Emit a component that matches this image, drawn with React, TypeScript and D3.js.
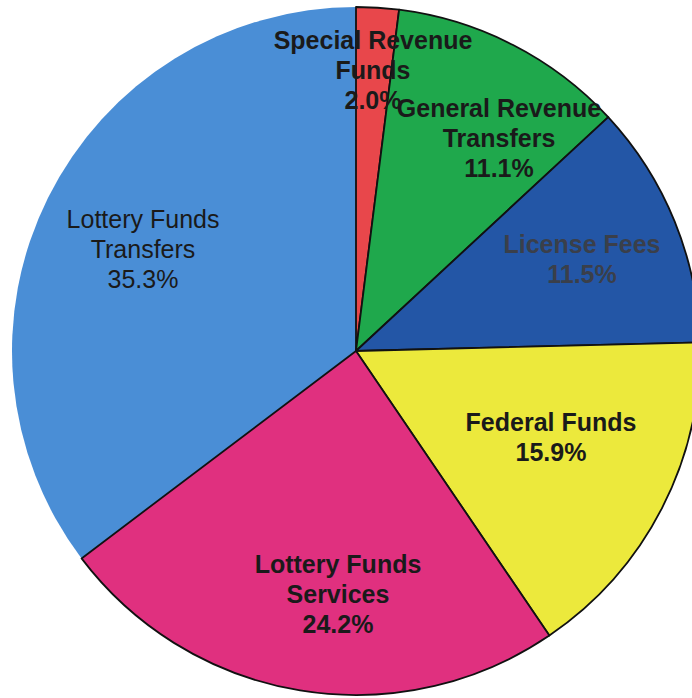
import React from "react";
import * as d3 from "d3";

const categories = [
  "Special Revenue Funds",
  "General Revenue Transfers",
  "License Fees",
  "Federal Funds",
  "Lottery Funds Services",
  "Lottery Funds Transfers",
];
const values = [2.0, 11.1, 11.5, 15.9, 24.2, 35.3];
const labelLines = [
  ["Special Revenue", "Funds", "2.0%"],
  ["General Revenue", "Transfers", "11.1%"],
  ["License Fees", "11.5%"],
  ["Federal Funds", "15.9%"],
  ["Lottery Funds", "Services", "24.2%"],
  ["Lottery Funds", "Transfers", "35.3%"],
];

const colors = ["#e8474b", "#1fa84c", "#2356a6", "#ece93c", "#e0307f", "#4a8ed6"];
// label anchor: offset of first baseline from pie center
const labelOffsets: [number, number][] = [
  [17, -302],
  [143, -234],
  [226, -98],
  [195, 80],
  [-18, 222],
  [-213, -123],
];
const labelWeights = ["bold", "bold", "bold", "bold", "bold", "normal"];
const labelFills = ["#1a1a1a", "#1a1a1a", "#3a3f4a", "#1a1a1a", "#1a1a1a", "#1a1a1a"];

const W = 692;
const H = 698;
const cx = 356;
const cy = 351;
const R = 344;
const lineH = 30;

export default function App() {
  const pie = d3
    .pie<number>()
    .sort(null)
    .value((d) => d)
    .startAngle(0)
    .endAngle(2 * Math.PI);
  const arcs = pie(values);
  const arc = d3.arc<d3.PieArcDatum<number>>().innerRadius(0).outerRadius(R);

  // draw the light-blue slice first without stroke, then the others with black outline
  const order = [5, 0, 1, 2, 3, 4];

  return (
    <svg
      width={W}
      height={H}
      style={{ position: "absolute", left: 0, top: 0, background: "#fff" }}
      fontFamily="'Liberation Sans', Arial, sans-serif"
    >
      <g transform={`translate(${cx},${cy})`}>
        {order.map((i) => (
          <path
            key={categories[i]}
            d={arc(arcs[i]) || ""}
            fill={colors[i]}
            stroke={i === 5 ? "none" : "#111"}
            strokeWidth={1.8}
            strokeLinejoin="round"
          />
        ))}
        {labelLines.map((lines, i) => (
          <text
            key={"l" + i}
            textAnchor="middle"
            fontSize={25}
            fontWeight={labelWeights[i]}
            fill={labelFills[i]}
          >
            {lines.map((ln, j) => (
              <tspan key={j} x={labelOffsets[i][0]} y={labelOffsets[i][1] + j * lineH}>
                {ln}
              </tspan>
            ))}
          </text>
        ))}
      </g>
    </svg>
  );
}
